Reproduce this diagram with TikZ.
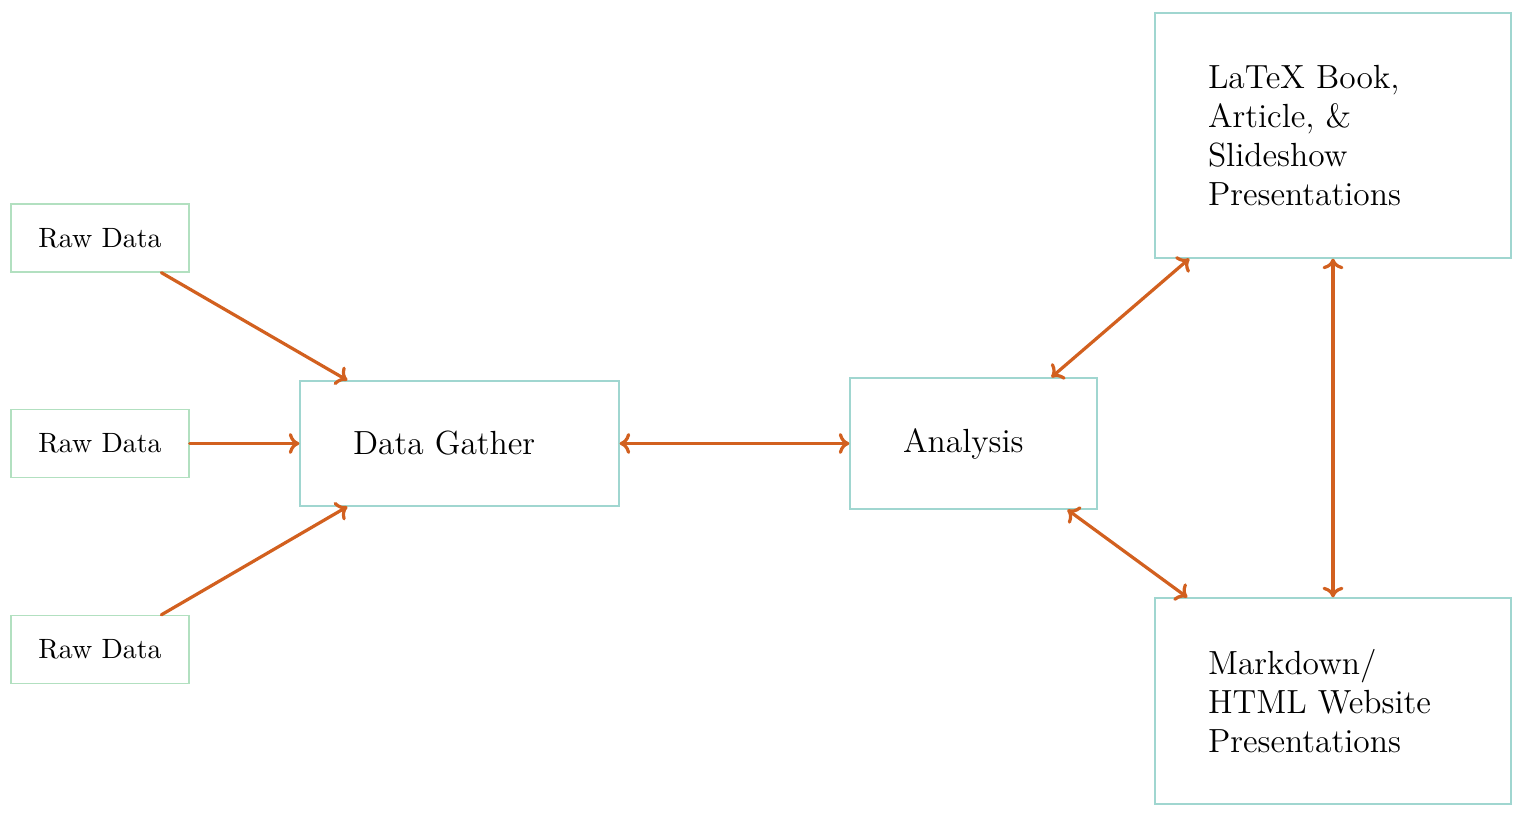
\documentclass[tikz,border=0pt]{standalone}
\usetikzlibrary{calc,arrows.meta}
\definecolor{rawgreen}{RGB}{178,224,192}
\definecolor{boxteal}{RGB}{160,214,208}
\definecolor{arrorange}{RGB}{210,96,31}
\begin{document}
\begin{tikzpicture}[x=0.3584pt,y=-0.3584pt,
  rawbox/.style={draw=rawgreen,line width=0.45pt,minimum width=63.8pt,minimum height=24.4pt,inner sep=0pt,font=\normalsize},
  bigbox/.style={draw=boxteal,line width=0.45pt,inner xsep=19pt,inner ysep=0pt,align=left,font=\large},
  arr/.style={draw=arrorange,line width=1.15pt,line cap=round,-{To[length=3.8pt,width=7.5pt]}},
  darr/.style={draw=arrorange,line width=1.15pt,line cap=round,{To[length=3.8pt,width=7.5pt]}-{To[length=3.8pt,width=7.5pt]}}]
\useasboundingbox (0,0) rectangle (1528,818);
\node[rawbox] (r1) at (100,238) {Raw Data};
\node[rawbox] (r2) at (100,443.5) {Raw Data};
\node[rawbox] (r3) at (100,649.5) {Raw Data};
\node[bigbox,text width=76.3pt,minimum height=44.8pt] (dg) at (459.5,443.5) {Data Gather};
\node[bigbox,text width=50.5pt,minimum height=47pt] (an) at (973.5,443.5) {Analysis};
\node[bigbox,text width=89.6pt,minimum height=87.8pt] (lx) at (1333,135.5) {LaTeX Book,\\ Article, \&\\ Slideshow\\ Presentations};
\node[bigbox,text width=89.6pt,minimum height=73.8pt] (md) at (1333,701) {Markdown/\\ HTML Website\\ Presentations};
\draw[arr] ($(r1.south west)+(151,0)$) -- ($(dg.north west)+(48,0)$);
\draw[arr] (r2.east) -- (dg.west);
\draw[arr] ($(r3.north west)+(151,0)$) -- ($(dg.south west)+(48,0)$);
\draw[darr] (dg.east) -- (an.west);
\draw[darr] ($(an.north west)+(202,0)$) -- ($(lx.south west)+(35,0)$);
\draw[darr] ($(an.south west)+(218,0)$) -- ($(md.north west)+(33,0)$);
\draw[darr] (lx.south) -- (md.north);
\end{tikzpicture}
\end{document}
